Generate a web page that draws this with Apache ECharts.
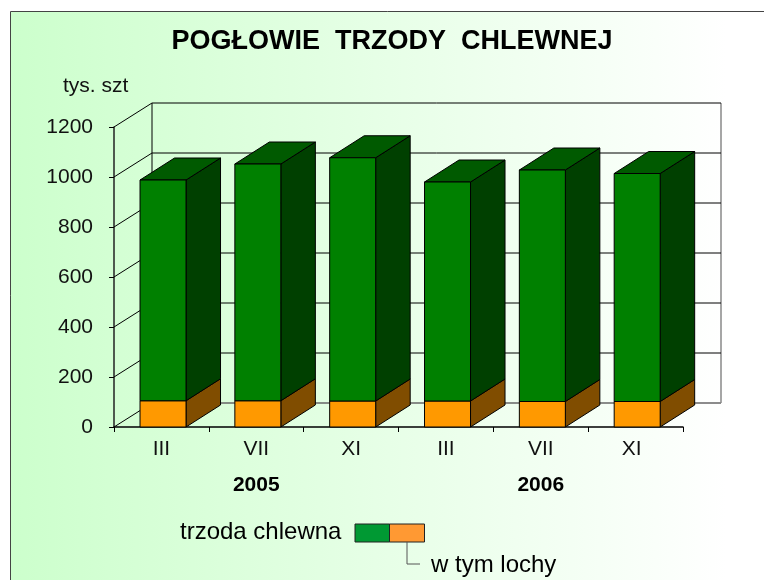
<!DOCTYPE html>
<html>
<head>
<meta charset="utf-8">
<style>html,body{margin:0;padding:0;background:#fff}#c{width:764px;height:580px}</style>
<script src="https://cdn.jsdelivr.net/npm/echarts@6/dist/echarts.min.js"></script>
</head>
<body>
<div id="c"></div>
<script>
const months = ['III','VII','XI','III','VII','XI'];
const years = ['','2005','','','2006',''];
const herdTotal = [988,1052,1077,980,1028,1014];
const sows = [105,105,104,104,102,102];
const yTicks = [0,200,400,600,800,1000,1200];
const FONT = '"Liberation Sans", Arial, sans-serif';

const chart = echarts.init(document.getElementById('c'), null, {renderer:'canvas'});

function poly(points, fill, stroke, lw){
  return {type:'polygon', shape:{points}, style:{fill, stroke, lineWidth:lw}};
}
function seg(x1,y1,x2,y2,stroke,lw){
  return {type:'line', shape:{x1,y1,x2,y2}, style:{stroke, lineWidth:lw, fill:null}};
}
const WALL_DX = 38, WALL_DY = 24;
function renderWall(params, api){
  const v = api.value(1);
  const band = api.size([1,0])[0];
  const l = api.coord([0,v]);
  const r = api.coord([months.length-1,v]);
  const x0 = l[0]-band/2, x1 = r[0]+band/2, y = l[1];
  const base = api.coord([0,0])[1];
  const top = api.coord([0,1200])[1];
  const kids = [];
  kids.push(seg(x0,y,x0+WALL_DX,y-WALL_DY,'#000',1));
  kids.push(seg(x0+WALL_DX,y-WALL_DY,x1+WALL_DX,y-WALL_DY, v===0?'#666':'#000', v===0?1.5:1));
  if(v===0){
    kids.push(seg(x0+WALL_DX,base-WALL_DY,x0+WALL_DX,top-WALL_DY,'#000',1));
    kids.push(seg(x1+WALL_DX,base-WALL_DY,x1+WALL_DX,top-WALL_DY,'#888',1.5));
  }
  return {type:'group', children:kids};
}
const BAR_W = 46, BAR_DX = 34.5, BAR_DY = 22, BAR_SHIFT = 1.6;
function renderBar(params, api){
  const i = api.value(0);
  const p0 = api.coord([i,0]);
  const pS = api.coord([i,api.value(2)]);
  const pT = api.coord([i,api.value(1)]);
  const a = p0[0]-BAR_W/2+BAR_SHIFT, b = a+BAR_W;
  const y0=p0[1], yS=pS[1], yT=pT[1];
  const dx=BAR_DX, dy=BAR_DY, s='#000', lw=1;
  return {type:'group', children:[
    poly([[b,y0],[b+dx,y0-dy],[b+dx,yS-dy],[b,yS]],'#804d00',s,lw),
    poly([[a,y0],[b,y0],[b,yS],[a,yS]],'#ff9900',s,lw),
    poly([[b,yS],[b+dx,yS-dy],[b+dx,yT-dy],[b,yT]],'#004000',s,lw),
    poly([[a,yT],[a+dx,yT-dy],[b+dx,yT-dy],[b,yT]],'#005a00',s,lw),
    poly([[a,yS],[b,yS],[b,yT],[a,yT]],'#008000',s,lw)
  ]};
}

chart.setOption({
  animation:false,
  backgroundColor:'#fff',
  title:[
    {text:'POGŁOWIE  TRZODY  CHLEWNEJ', left:387, top:23, textAlign:'center',
     textStyle:{fontFamily:FONT,fontSize:27,fontWeight:'bold',color:'#000'}},
    {text:'tys. szt', left:58, top:71,
     textStyle:{fontFamily:FONT,fontSize:21,fontWeight:'normal',color:'#111'}}
  ],
  grid:{left:114, top:127, width:569, height:300, containLabel:false},
  xAxis:[
    {type:'category', data:months, position:'bottom',
     axisLine:{lineStyle:{color:'#000',width:1.5}},
     axisTick:{show:true,length:5,alignWithLabel:false,lineStyle:{color:'#000'}},
     axisLabel:{interval:0,margin:12,color:'#111',fontFamily:FONT,fontSize:21,
       formatter:(v,i)=>i===5?'{s|'+v+'}':v,
       rich:{s:{padding:[0,8,0,0],color:'#111',fontFamily:FONT,fontSize:21}}}},
    {type:'category', data:years, position:'bottom', offset:48,
     axisLine:{show:false}, axisTick:{show:false},
     axisLabel:{interval:0,margin:0,color:'#000',fontFamily:FONT,fontSize:21,fontWeight:'bold'}}
  ],
  yAxis:{type:'value',min:0,max:1200,interval:200,
     axisLine:{show:true,lineStyle:{color:'#222',width:1.5}},
     axisTick:{show:true,length:5,lineStyle:{color:'#000'}},
     splitLine:{show:false},
     axisLabel:{margin:21,color:'#111',fontFamily:FONT,fontSize:21,formatter:v=>String(v)}},
  series:[
    {type:'custom',name:'siatka',xAxisIndex:0,renderItem:renderWall,clip:false,z:1,silent:true,
     data:yTicks.map(v=>[0,v])},
    {type:'custom',name:'trzoda chlewna',xAxisIndex:0,renderItem:renderBar,clip:false,z:2,
     encode:{x:0,y:1},
     data:months.map((m,i)=>[i,herdTotal[i],sows[i]])}
  ],
  graphic:[
    {type:'rect',z:-10,silent:true,shape:{x:10,y:12,width:754,height:568},
     style:{fill:{type:'linear',x:0,y:0,x2:1,y2:0,colorStops:[
       {offset:0,color:'#ccffcc'},{offset:0.95,color:'#ffffff'},{offset:1,color:'#ffffff'}]}}},
    {type:'line',z:-9,silent:true,shape:{x1:10.5,y1:11.5,x2:764,y2:11.5},style:{stroke:'#444',lineWidth:1}},
    {type:'line',z:-9,silent:true,shape:{x1:10.5,y1:11.5,x2:10.5,y2:580},style:{stroke:'#444',lineWidth:1}},
    {type:'text',style:{text:'trzoda chlewna',x:180,y:520,fill:'#000',font:'24px '+FONT}},
    {type:'rect',shape:{x:355,y:524,width:34.5,height:18},style:{fill:'#009933',stroke:'#222',lineWidth:1}},
    {type:'rect',shape:{x:389.5,y:524,width:35,height:18},style:{fill:'#ff9933',stroke:'#222',lineWidth:1}},
    {type:'polyline',shape:{points:[[407,542],[407,564],[420,564]]},style:{stroke:'#555',fill:null,lineWidth:1}},
    {type:'text',style:{text:'w tym lochy',x:431,y:553,fill:'#000',font:'24px '+FONT}}
  ]
});
</script>
</body>
</html>
